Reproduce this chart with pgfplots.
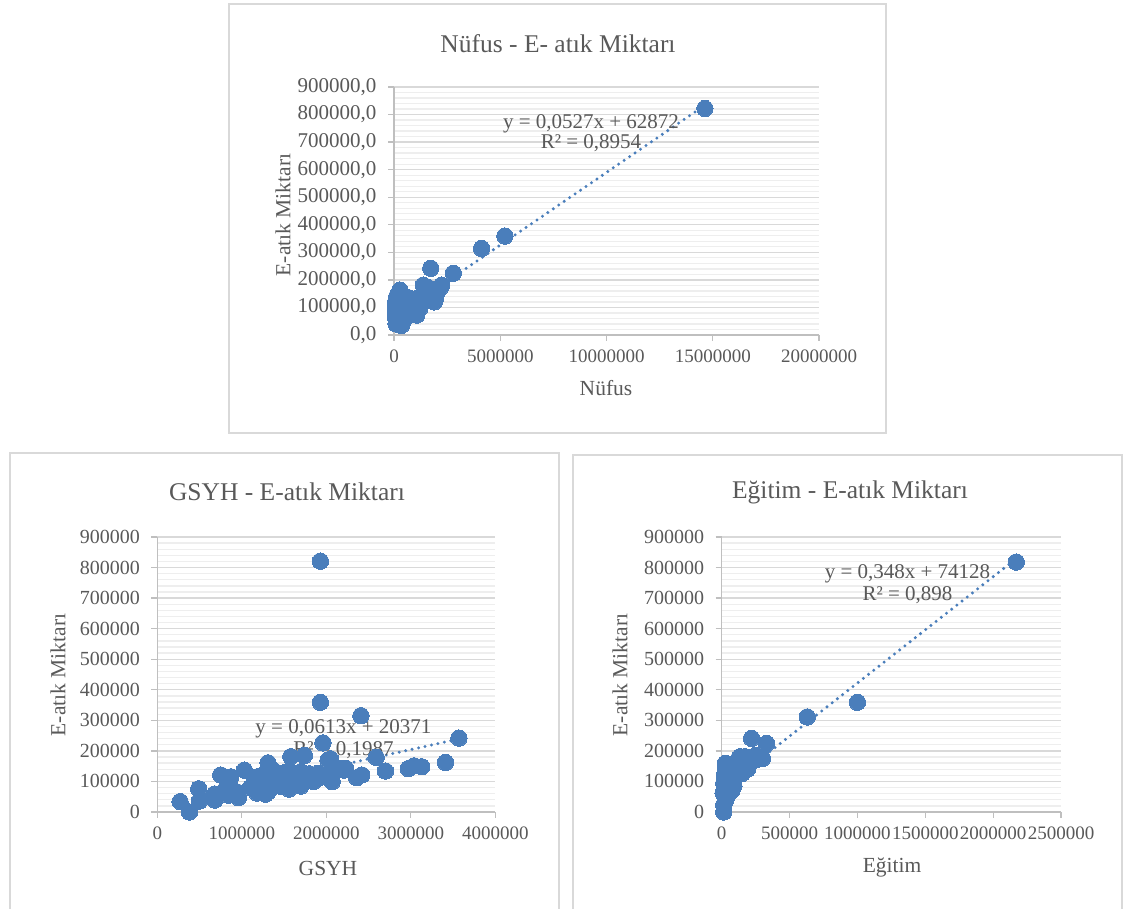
\documentclass[border=0pt]{standalone}
\usepackage{fontspec}
\setmainfont{Liberation Serif}
\usepackage{pgfplots}
\pgfplotsset{compat=1.18}
\definecolor{txt}{HTML}{595959}
\definecolor{gmaj}{HTML}{D9D9D9}
\definecolor{gmin}{HTML}{EEEEEE}
\definecolor{axl}{HTML}{BFBFBF}
\definecolor{pt}{HTML}{4A7EBB}
\pgfplotsset{
 excel/.style={
  scale only axis,
  axis lines*=left,
  axis line style={draw=axl, line width=1.3pt, -},
  tick align=outside,
  major tick length=6pt,
  minor tick length=0pt,
  tick style={draw=axl, line width=1.3pt},
  ymajorgrids, yminorgrids,
  major grid style={draw=gmaj, line width=1.3pt},
  minor grid style={draw=gmin, line width=1.3pt},
  minor y tick num=4,
  ymin=0, ymax=900000,
  ytick={0,100000,200000,300000,400000,500000,600000,700000,800000,900000},
  scaled x ticks=false, scaled y ticks=false,
  tick label style={text=txt},
  x tick label style={font=\fontsize{19}{19}\selectfont, yshift=-5pt, /pgf/number format/.cd, fixed, 1000 sep={}, assume math mode=true},
  y tick label style={font=\fontsize{20}{20}\selectfont, xshift=-8pt},
  clip=false,
 },
 dots/.style={only marks, mark=*, mark size=8.2pt, mark options={fill=pt, draw=pt, line width=0pt}},
 trend/.style={no marks, draw=pt, line width=3.3pt, line cap=round, dash pattern=on 0pt off 6.6pt},
}
\newcommand{\ttl}{\fontsize{25.5}{26}\selectfont}
\newcommand{\lbl}{\fontsize{21.5}{22}\selectfont}
\begin{document}
\begin{tikzpicture}[x=1pt,y=1pt]
\useasboundingbox (0,0) rectangle (1123,909);
\fill[white] (0,0) rectangle (1123,909);
\draw[gmaj, line width=1.3pt] (229,905) rectangle (886,476);
\draw[gmaj, line width=1.3pt] (10,456) rectangle (559,-20);
\draw[gmaj, line width=1.3pt] (573,454) rectangle (1122,-20);

% ---------- Panel 1: Nufus ----------
\begin{axis}[excel, at={(394pt,574pt)}, anchor=south west, width=425pt, height=248pt,
  xmin=0, xmax=20000000, xtick={0,5000000,10000000,15000000,20000000},
  y tick label style={font=\fontsize{21}{21}\selectfont, /pgf/number format/.cd, fixed, fixed zerofill, precision=1, use comma, 1000 sep={}, assume math mode=true}]
\addplot[dots] table {
x y
14630000 822000
5220000 359000
4120000 314000
2790000 224000
1730000 242000
2240000 181000
2160000 170000
1380000 181000
1600000 172000
1770000 127000
1950000 133000
1850000 150000
1500000 145000
1700000 160000
1250000 140000
1100000 120000
1070000 72000
900000 110000
800000 125000
700000 135000
600000 100000
500000 127000
450000 90000
400000 80000
350000 140000
300000 110000
280000 163000
250000 60000
200000 150000
180000 95000
150000 75000
120000 50000
100000 40000
90000 85000
80000 120000
70000 65000
60000 100000
400000 45000
350000 35000
300000 55000
500000 60000
600000 70000
700000 85000
800000 95000
850000 75000
950000 100000
1000000 115000
1150000 130000
1300000 120000
1400000 135000
1200000 95000
650000 115000
550000 105000
450000 130000
380000 100000
320000 90000
250000 110000
220000 130000
150000 120000
130000 140000
1900000 120000
2000000 150000
1450000 165000
};
\addplot[trend] coordinates {(60000,66034) (14630000,833873)};
\node[align=center, text=txt, font=\fontsize{21}{20}\selectfont] at (axis cs:9270000,732000) {y = 0,0527x + 62872\\R² = 0,8954};
\end{axis}
\node[text=txt, font=\ttl] at (558,865) {Nüfus - E- atık Miktarı};
\node[text=txt, font=\lbl] at (606,521) {Nüfus};
\node[text=txt, font=\lbl, rotate=90] at (283,694) {E-atık Miktarı};

% ---------- Panel 2: GSYH ----------
\begin{axis}[excel, at={(157.3pt,97pt)}, anchor=south west, width=338pt, height=275pt,
  xmin=0, xmax=4000000, xtick={0,1000000,2000000,3000000,4000000},
  y tick label style={/pgf/number format/.cd, fixed, 1000 sep={}, assume math mode=true}]
\addplot[dots] table {
x y
1930000 821000
1930000 359000
2410000 315000
3570000 242000
1960000 226000
2590000 179000
2050000 174000
1740000 185000
1580000 181000
1310000 161000
3410000 162000
3130000 148000
3040000 151000
2970000 142000
2700000 134000
2420000 121000
2360000 112000
2230000 143000
2160000 143000
1030000 137000
750000 121000
870000 115000
490000 76000
270000 34000
380000 0
500000 36000
680000 59000
680000 39000
840000 55000
960000 47000
1180000 115000
1390000 132000
2070000 99000
800000 72000
940000 66000
1150000 105000
1230000 72000
1370000 137000
1390000 105000
1310000 66000
1470000 83000
1590000 126000
1550000 83000
1700000 132000
1780000 105000
1900000 126000
2020000 170000
2060000 105000
2100000 132000
2210000 137000
1100000 80000
1200000 95000
1250000 120000
1450000 115000
1650000 95000
1800000 125000
1850000 100000
1620000 110000
1520000 130000
1420000 90000
1330000 75000
1180000 62000
1280000 58000
1700000 85000
1950000 115000
2000000 120000
1560000 75000
1750000 110000
};
\addplot[trend] coordinates {(270000,36922) (3570000,239212)};
\node[align=center, text=txt, font=\fontsize{21}{22}\selectfont] at (axis cs:2203000,238600) {y = 0,0613x + 20371\\R² = 0,1987};
\end{axis}
\node[text=txt, font=\ttl] at (287,417) {GSYH - E-atık Miktarı};
\node[text=txt, font=\lbl] at (328,41) {GSYH};
\node[text=txt, font=\lbl, rotate=90] at (58,234) {E-atık Miktarı};

% ---------- Panel 3: Egitim ----------
\begin{axis}[excel, at={(721.7pt,97pt)}, anchor=south west, width=339.3pt, height=275pt,
  xmin=0, xmax=2500000, xtick={0,500000,1000000,1500000,2000000,2500000},
  y tick label style={/pgf/number format/.cd, fixed, 1000 sep={}, assume math mode=true}]
\addplot[dots] table {
x y
2170000 818000
1000000 359000
630000 311000
220000 241000
330000 224000
300000 175000
220000 170000
125000 175000
27000 159000
15000 0
27000 137000
15000 94000
10000 62000
30000 39000
50000 72000
100000 115000
150000 126000
170000 148000
135000 181000
120000 164000
70000 148000
27000 105000
60000 94000
40000 50000
15000 23000
170000 181000
245000 170000
110000 126000
80000 105000
45000 126000
35000 80000
20000 120000
90000 85000
60000 130000
200000 160000
250000 185000
190000 140000
130000 150000
75000 70000
55000 110000
};
\addplot[trend] coordinates {(10000,77608) (2170000,829288)};
\node[align=center, text=txt, font=\fontsize{21}{22}\selectfont] at (axis cs:1369000,745000) {y = 0,348x + 74128\\R² = 0,898};
\end{axis}
\node[text=txt, font=\ttl] at (850,417) {Eğitim - E-atık Miktarı};
\node[text=txt, font=\lbl] at (892,42) {Eğitim};
\node[text=txt, font=\lbl, rotate=90] at (620,234) {E-atık Miktarı};
\end{tikzpicture}
\end{document}
